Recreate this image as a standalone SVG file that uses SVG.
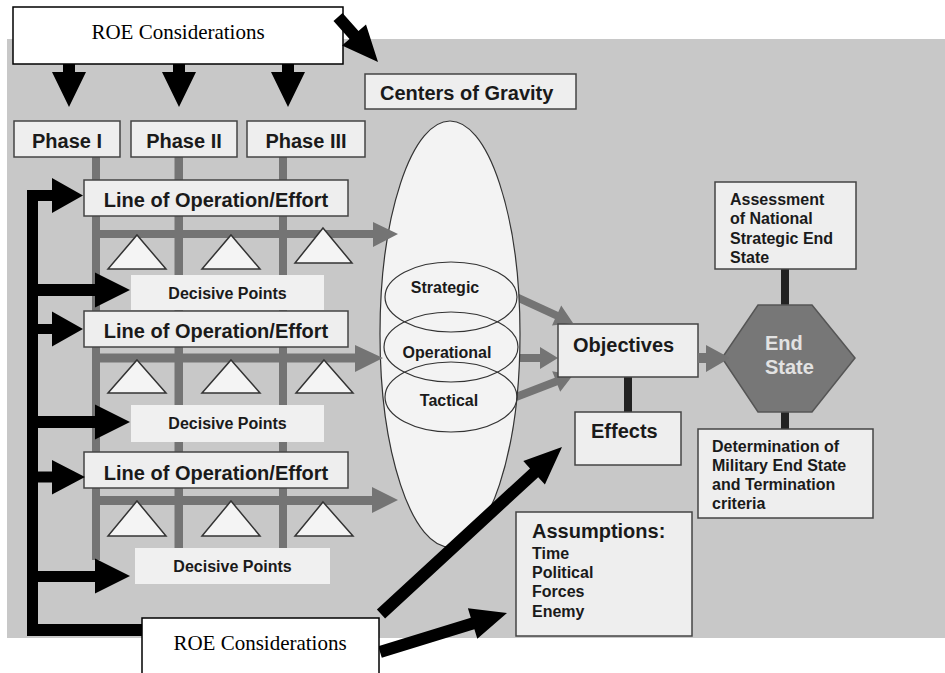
<svg xmlns="http://www.w3.org/2000/svg" width="945" height="673" viewBox="0 0 945 673">
<style>
.bg{fill:#c8c8c8}
.box{fill:#eeeeee;stroke:#444;stroke-width:1.5}
.dp{fill:#f0f0f0}
.roe{fill:#fff;stroke:#000;stroke-width:1.5}
.tri{fill:#f4f4f4;stroke:#333;stroke-width:1.5}
.gbar{fill:#747474}
.dbar{fill:#222}
.blk{fill:#000}
.t20{font-family:"Liberation Sans",Arial,sans-serif;font-weight:bold;font-size:20px;fill:#1a1a1a}
.t16{font-family:"Liberation Sans",Arial,sans-serif;font-weight:bold;font-size:16px;fill:#1a1a1a}
.serif{font-family:"Liberation Serif","Times New Roman",serif;font-size:21px;fill:#000}
.mid{text-anchor:middle}
</style>
<rect class="bg" x="7" y="39" width="938" height="599"/>

<g id="connectors">
  <!-- gray vertical phase bars -->
  <rect class="gbar" x="92" y="157" width="8" height="403"/>
  <rect class="gbar" x="174.5" y="157" width="8.5" height="403"/>
  <rect class="gbar" x="279" y="157" width="8" height="403"/>
  <!-- gray arrows ellipses to objectives -->
  <polygon class="gbar" points="513.7,291.4 558.3,311.9 561.2,305.5 573,323 552,325.5 554.9,319.1 510.3,298.6"/>
  <polygon class="gbar" points="518,354 540,354 540,347 558,358 540,369 540,362 518,362"/>
  <polygon class="gbar" points="514.6,393.3 554.8,377.8 552.2,371.2 573,375 560.2,391.8 557.6,385.2 517.4,400.7"/>
  <!-- dark connectors on the right -->
  <rect class="dbar" x="624" y="377" width="8" height="35"/>
  <rect class="dbar" x="781" y="269" width="8" height="36"/>
  <rect class="dbar" x="781" y="412" width="8" height="17"/>
</g>

<g id="ellipse-cog">
  <ellipse cx="450" cy="334" rx="70" ry="213" fill="#f3f3f3" stroke="#333" stroke-width="1.2"/>
</g>

<g id="loo-arrows">
  <polygon class="gbar" points="96,230 373,230 373,222 398,234 373,247 373,238 96,238"/>
  <polygon class="gbar" points="96,353.5 355,353.5 355,345 383,358 355,372 355,362.5 96,362.5"/>
  <polygon class="gbar" points="96,496 372,496 372,487 398,500 372,513 372,505 96,505"/>
</g>

<g id="phase-1"><rect class="box" x="14" y="121" width="106" height="36"/><text class="t20 mid" x="67" y="148">Phase I</text></g>
<g id="phase-2"><rect class="box" x="131" y="121" width="106" height="36"/><text class="t20 mid" x="184" y="148">Phase II</text></g>
<g id="phase-3"><rect class="box" x="247" y="121" width="118" height="36"/><text class="t20 mid" x="306" y="148">Phase III</text></g>

<g id="loo-1"><rect class="box" x="84" y="180" width="264" height="36"/><text class="t20 mid" x="216" y="207">Line of Operation/Effort</text></g>
<g id="loo-2"><rect class="box" x="84" y="311" width="264" height="36"/><text class="t20 mid" x="216" y="338">Line of Operation/Effort</text></g>
<g id="loo-3"><rect class="box" x="84" y="452" width="264" height="36"/><text class="t20 mid" x="216" y="480">Line of Operation/Effort</text></g>

<g id="dp-1"><rect class="dp" x="131" y="275" width="193" height="35"/><text class="t16 mid" x="227.5" y="299">Decisive Points</text></g>
<g id="dp-2"><rect class="dp" x="131" y="405" width="193" height="37"/><text class="t16 mid" x="227.5" y="429">Decisive Points</text></g>
<g id="dp-3"><rect class="dp" x="135" y="548" width="195" height="36"/><text class="t16 mid" x="232.5" y="572">Decisive Points</text></g>

<g id="triangles">
  <polygon class="tri" points="137,235 166,269 108,269"/>
  <polygon class="tri" points="231,235 260,269 202,269"/>
  <polygon class="tri" points="323,228 352,263 295,263"/>
  <polygon class="tri" points="137,360 166,393 108,393"/>
  <polygon class="tri" points="231,360 260,393 202,393"/>
  <polygon class="tri" points="324,360 353,393 296,393"/>
  <polygon class="tri" points="137,501 166,536 108,536"/>
  <polygon class="tri" points="231,501 260,536 202,536"/>
  <polygon class="tri" points="323,502 353,536 295,536"/>
</g>

<g id="cog-levels">
  <ellipse cx="451" cy="297" rx="66" ry="35" fill="none" stroke="#333" stroke-width="1.2"/>
  <ellipse cx="451" cy="347" rx="67" ry="35" fill="none" stroke="#333" stroke-width="1.2"/>
  <ellipse cx="451" cy="397" rx="66" ry="35" fill="none" stroke="#333" stroke-width="1.2"/>
  <text class="t16 mid" x="445" y="293">Strategic</text>
  <text class="t16 mid" x="447" y="358">Operational</text>
  <text class="t16 mid" x="449" y="406">Tactical</text>
</g>

<g id="centers-of-gravity"><rect class="box" x="365" y="74" width="211" height="35"/><text class="t20" x="380" y="100">Centers of Gravity</text></g>

<g id="objectives"><rect class="box" x="558" y="324" width="140" height="53"/><text class="t20" x="573" y="352">Objectives</text></g>
<g id="effects"><rect class="box" x="575" y="412" width="106" height="53"/><text class="t20" x="591" y="438">Effects</text></g>

<g id="end-state">
  <polygon points="758,305 812,305 855,358 812,412 758,412 722,358" fill="#777" stroke="#555" stroke-width="1.5"/>
  <text class="t20" x="765" y="350" style="fill:#e2e2e2">End</text>
  <text class="t20" x="765" y="374" style="fill:#e2e2e2">State</text>
</g>
<g id="obj-end-arrow">
  <polygon class="gbar" points="698,353 706,353 706,345 730,358 706,372 706,363 698,363"/>
</g>

<g id="assessment"><rect class="box" x="715" y="182" width="141" height="87"/>
  <text class="t16" x="730" y="205">Assessment</text>
  <text class="t16" x="730" y="224">of National</text>
  <text class="t16" x="730" y="244">Strategic End</text>
  <text class="t16" x="730" y="263">State</text>
</g>
<g id="determination"><rect class="box" x="698" y="429" width="175" height="89"/>
  <text class="t16" x="712" y="452">Determination of</text>
  <text class="t16" x="712" y="471">Military End State</text>
  <text class="t16" x="712" y="490">and Termination</text>
  <text class="t16" x="712" y="509">criteria</text>
</g>
<g id="assumptions"><rect class="box" x="516" y="512" width="176" height="124"/>
  <text class="t20" x="532" y="538">Assumptions:</text>
  <text class="t16" x="532" y="559">Time</text>
  <text class="t16" x="532" y="578">Political</text>
  <text class="t16" x="532" y="597">Forces</text>
  <text class="t16" x="532" y="617">Enemy</text>
</g>

<g id="roe-arrows">
  <!-- top ROE down arrows -->
  <polygon class="blk" points="63,62 75,62 75,72 86,72 69,107 52,72 63,72"/>
  <polygon class="blk" points="173,62 185,62 185,72 196,72 179,107 162,72 173,72"/>
  <polygon class="blk" points="282,62 294,62 294,72 305,72 288,107 271,72 282,72"/>
  <!-- left feedback bracket -->
  <rect class="blk" x="27" y="190" width="11" height="446"/>
  <rect class="blk" x="27" y="624" width="120" height="12"/>
  <polygon class="blk" points="27,190 52,190 52,178 83,195.5 52,213 52,201 27,201"/>
  <polygon class="blk" points="38,284 95,284 95,272.5 130,290 95,307.5 95,296 38,296"/>
  <polygon class="blk" points="38,324 52,324 52,311.5 83,329 52,346.5 52,334 38,334"/>
  <polygon class="blk" points="38,416 95,416 95,404.5 130,422 95,439.5 95,428 38,428"/>
  <polygon class="blk" points="38,471.5 52,471.5 52,460 85,477 52,494.5 52,482.5 38,482.5"/>
  <polygon class="blk" points="38,571 95,571 95,558.5 130,576 95,593.5 95,582 38,582"/>
  <!-- bottom ROE arrows -->
  <polygon class="blk" points="376.9,609.6 530,468.4 523.3,461 562,447 544.9,484.6 538.2,477.2 385.1,618.4"/>
  <polygon class="blk" points="378.2,646.3 470.8,617.8 467.9,608.2 507,613 477.3,638.8 474.4,629.2 381.8,657.7"/>
</g>

<g id="roe-top">
  <rect class="roe" x="13" y="7" width="330" height="57"/>
  <text class="serif mid" x="178" y="39">ROE Considerations</text>
</g>
<g id="roe-top-arrow">
  <polygon class="blk" points="342.5,13 358.5,31 366,24.4 378,62 342,45.6 349.5,39 333.5,21"/>
</g>
<g id="roe-bottom">
  <rect class="roe" x="142" y="618" width="237" height="70"/>
  <text class="serif mid" x="260" y="650">ROE Considerations</text>
</g>
</svg>
